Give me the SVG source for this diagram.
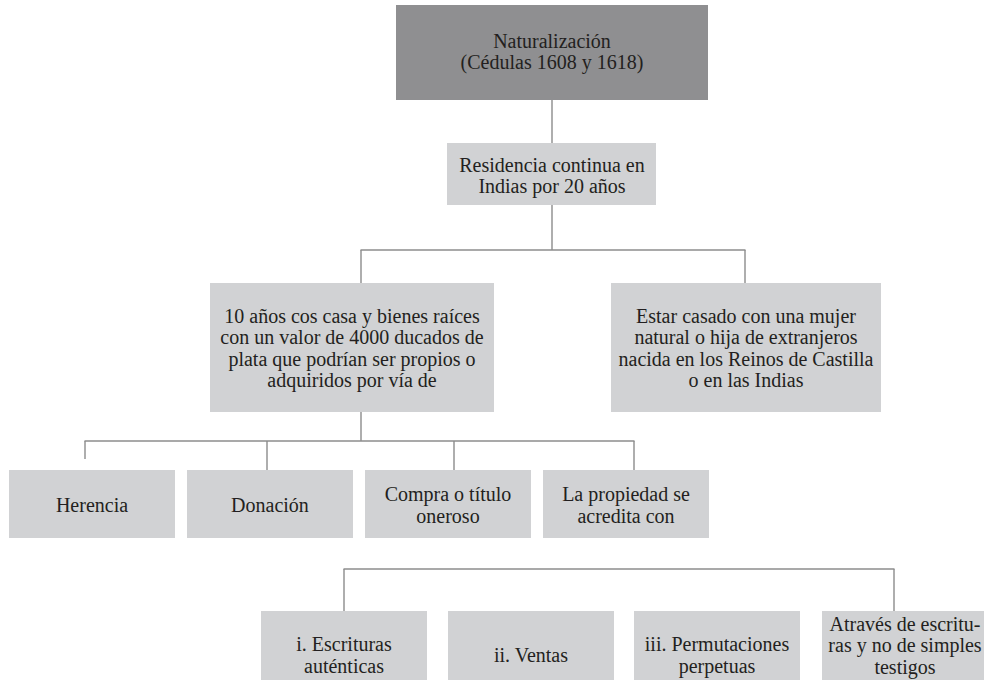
<svg xmlns="http://www.w3.org/2000/svg" width="984" height="680" viewBox="0 0 984 680">
<style>
.box{fill:#d1d2d4}
.dark{fill:#8f8f91}
.t{font-family:'Liberation Serif','DejaVu Serif',serif;font-size:20px;fill:#231f20;text-anchor:middle}
.conn line{stroke:#8c8c8c;stroke-width:1.4;fill:none}
</style>
<rect width="984" height="680" fill="#ffffff"/>
<g class="conn" id="connectors">
<line x1="552" y1="100" x2="552" y2="143"/>
<line x1="552" y1="205" x2="552" y2="250"/>
<line x1="360.5" y1="250" x2="745.5" y2="250"/>
<line x1="361" y1="250" x2="361" y2="283"/>
<line x1="745" y1="250" x2="745" y2="283"/>
<line x1="361" y1="412" x2="361" y2="441"/>
<line x1="84.5" y1="441" x2="634.5" y2="441"/>
<line x1="85" y1="441" x2="85" y2="459"/>
<line x1="267" y1="441" x2="267" y2="470"/>
<line x1="454" y1="441" x2="454" y2="470"/>
<line x1="634" y1="441" x2="634" y2="470"/>
<line x1="343.5" y1="569" x2="894.5" y2="569"/>
<line x1="344" y1="569" x2="344" y2="611"/>
<line x1="894" y1="569" x2="894" y2="611"/>
</g>
<g class="t" font-family="Liberation Serif, DejaVu Serif, serif" font-size="20">
<g id="n-naturalizacion">
<rect class="dark" x="396" y="5" width="312" height="95"/>
<text x="552" y="48">Naturalización</text>
<text x="552" y="69">(Cédulas 1608 y 1618)</text>
</g>
<g id="n-residencia">
<rect class="box" x="447" y="143" width="209" height="62"/>
<text x="552" y="172">Residencia continua en</text>
<text x="552" y="193">Indias por 20 años</text>
</g>
<g id="n-diez-anos">
<rect class="box" x="210" y="283" width="284" height="129"/>
<text x="352" y="322.5">10 años cos casa y bienes raíces</text>
<text x="352" y="344">con un valor de 4000 ducados de</text>
<text x="352" y="365.5">plata que podrían ser propios o</text>
<text x="352" y="387">adquiridos por vía de</text>
</g>
<g id="n-casado">
<rect class="box" x="611" y="283" width="270" height="129"/>
<text x="746" y="322.5">Estar casado con una mujer</text>
<text x="746" y="344">natural o hija de extranjeros</text>
<text x="746" y="365.5">nacida en los Reinos de Castilla</text>
<text x="746" y="387">o en las Indias</text>
</g>
<g id="n-herencia">
<rect class="box" x="9" y="470" width="166" height="68"/>
<text x="92" y="512">Herencia</text>
</g>
<g id="n-donacion">
<rect class="box" x="187" y="470" width="166" height="68"/>
<text x="270" y="512">Donación</text>
</g>
<g id="n-compra">
<rect class="box" x="365" y="470" width="166" height="68"/>
<text x="448" y="501">Compra o título</text>
<text x="448" y="522.5">oneroso</text>
</g>
<g id="n-propiedad">
<rect class="box" x="543" y="470" width="166" height="68"/>
<text x="626" y="501">La propiedad se</text>
<text x="626" y="522.5">acredita con</text>
</g>
<g id="n-escrituras">
<rect class="box" x="261" y="611" width="166" height="90"/>
<text x="344" y="651">i. Escrituras</text>
<text x="344" y="672.5">auténticas</text>
</g>
<g id="n-ventas">
<rect class="box" x="448" y="611" width="166" height="90"/>
<text x="531" y="662">ii. Ventas</text>
</g>
<g id="n-permutaciones">
<rect class="box" x="634" y="611" width="166" height="90"/>
<text x="717" y="651">iii. Permutaciones</text>
<text x="717" y="672.5">perpetuas</text>
</g>
<g id="n-traves">
<rect class="box" x="822" y="611" width="166" height="90"/>
<text x="905" y="630.5">Através de escritu-</text>
<text x="905" y="652">ras y no de simples</text>
<text x="905" y="673.5">testigos</text>
</g>
</g>
</svg>
